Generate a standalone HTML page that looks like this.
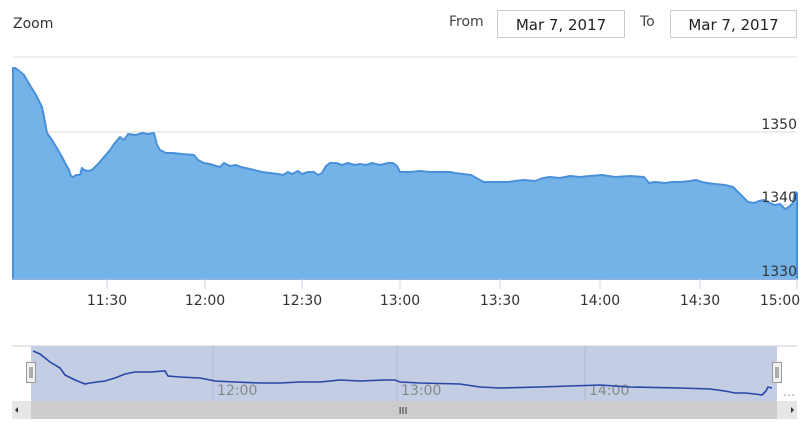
<!DOCTYPE html>
<html><head><style>
body{margin:0;background:#fff;width:810px;height:439px;overflow:hidden;font-family:"DejaVu Sans","Liberation Sans",sans-serif;}
.t{position:absolute;font-size:14px;color:#333;}
.box{position:absolute;top:10px;height:28px;border:1px solid #ccc;font-size:15px;color:#222;line-height:28px;text-align:center;box-sizing:border-box;}
</style></head><body>
<div class="t" style="left:13px;top:16px;">Zoom</div>
<div class="t" style="left:449px;top:14px;color:#444;">From</div>
<div class="box" style="left:497px;width:128px;">Mar 7, 2017</div>
<div class="t" style="left:640px;top:14px;color:#444;">To</div>
<div class="box" style="left:670px;width:127px;">Mar 7, 2017</div>
<svg width="810" height="439" style="position:absolute;left:0;top:0" font-family="DejaVu Sans, Liberation Sans, sans-serif">
<line x1="13" y1="57" x2="797" y2="57" stroke="#ddd"/>
<line x1="13" y1="132" x2="797" y2="132" stroke="#ddd"/>
<line x1="13" y1="205" x2="797" y2="205" stroke="#ddd"/>
<path d="M13,68 L15,68 L18,70 L24,75 L28,82 L31,87 L36,95 L40,103 L42,107 L45,122 L47,133 L52,140 L58,150 L62,157 L65,163 L69,170 L71,176 L73,177 L76,175 L80,175 L82,168 L84,170 L88,171 L92,170 L96,166 L99,163 L104,157 L110,150 L114,144 L120,137 L124,140 L128,134 L136,135 L142,133 L148,134 L154,133 L157,145 L160,150 L166,153 L173,153 L182,154 L194,155 L198,160 L204,163 L210,164 L216,166 L220,167 L224,163 L230,166 L236,165 L241,167 L250,169 L262,172 L270,173 L278,174 L283,175 L288,172 L292,174 L298,171 L302,174 L308,172 L314,172 L318,175 L322,173 L326,166 L330,163 L336,163 L342,165 L348,163 L355,165 L360,164 L366,165 L372,163 L380,165 L388,163 L393,163 L397,166 L400,172 L410,172 L420,171 L430,172 L440,172 L450,172 L455,173 L463,174 L471,175 L478,179 L484,182 L495,182 L500,182 L508,182 L515,181 L524,180 L535,181 L543,178 L550,177 L560,178 L570,176 L580,177 L590,176 L602,175 L615,177 L630,176 L644,177 L649,183 L655,182 L665,183 L672,182 L681,182 L690,181 L696,180 L702,182 L707,183 L715,184 L725,185 L733,187 L738,192 L743,197 L748,202 L754,203 L759,201 L764,200 L770,203 L775,205 L780,204 L785,209 L789,207 L793,203 L795,192 L797,193 L797,279 L13,279 Z" fill="#73b3e8" stroke="#4a90d9" stroke-width="2" stroke-linejoin="round"/>
<line x1="13" y1="279" x2="797" y2="279" stroke="#ccd6eb"/>
<g stroke="#ccd6eb"><line x1="107" y1="279" x2="107" y2="289"/><line x1="205" y1="279" x2="205" y2="289"/><line x1="302" y1="279" x2="302" y2="289"/><line x1="400" y1="279" x2="400" y2="289"/><line x1="500" y1="279" x2="500" y2="289"/><line x1="600" y1="279" x2="600" y2="289"/><line x1="700" y1="279" x2="700" y2="289"/><line x1="797" y1="279" x2="797" y2="289"/></g>
<g font-size="14" fill="#333" text-anchor="middle"><text x="107" y="305">11:30</text><text x="205" y="305">12:00</text><text x="302" y="305">12:30</text><text x="400" y="305">13:00</text><text x="500" y="305">13:30</text><text x="600" y="305">14:00</text><text x="700" y="305">14:30</text><text x="780" y="305">15:00</text></g>
<g font-size="14" fill="#333" text-anchor="end"><text x="797" y="129">1350</text><text x="797" y="202">1340</text><text x="797" y="276">1330</text></g>
<line x1="12" y1="346" x2="797" y2="346" stroke="#ccc"/>
<rect x="31" y="346" width="746" height="55" fill="#c3cde3"/>
<g stroke="#b0b8c8"><line x1="213" y1="346" x2="213" y2="401"/><line x1="397" y1="346" x2="397" y2="401"/><line x1="585" y1="346" x2="585" y2="401"/></g>
<g font-size="14" fill="#888"><text x="217" y="395">12:00</text><text x="401" y="395">13:00</text><text x="589" y="395">14:00</text></g>
<text x="783" y="396" font-size="12" fill="#999">…</text>
<path d="M33,351 L40,354 L50,362 L60,368 L65,375 L75,380 L85,384 L90,383 L97,382 L105,381 L115,378 L125,374 L135,372 L150,372 L165,371 L168,376 L180,377 L200,378 L215,381 L235,382 L260,383 L280,383 L300,382 L320,382 L340,380 L360,381 L385,380 L395,380 L400,382 L420,383 L460,384 L480,387 L500,388 L540,387 L570,386 L600,385 L630,387 L680,388 L710,389 L725,391 L735,393 L745,393 L755,394 L762,395 L766,391 L768,387 L772,388" fill="none" stroke="#2746a8" stroke-width="1.6"/>
<rect x="12" y="401" width="785" height="18" fill="#e6e6e6"/>
<rect x="31" y="401" width="746" height="18" fill="#ccc"/>
<text x="403" y="414" font-size="10" fill="#333" text-anchor="middle">III</text>
<path d="M15,410 L18,407 L18,413 Z" fill="#333"/><path d="M791,407 L794,410 L791,413 Z" fill="#333"/>
<rect x="26.5" y="362.5" width="9" height="20" fill="#f2f2f2" stroke="#999"/>
<line x1="30" y1="367" x2="30" y2="378" stroke="#666"/><line x1="32" y1="367" x2="32" y2="378" stroke="#666"/>
<rect x="772.5" y="362.5" width="9" height="20" fill="#f2f2f2" stroke="#999"/>
<line x1="776" y1="367" x2="776" y2="378" stroke="#666"/><line x1="778" y1="367" x2="778" y2="378" stroke="#666"/>
</svg>
</body></html>
